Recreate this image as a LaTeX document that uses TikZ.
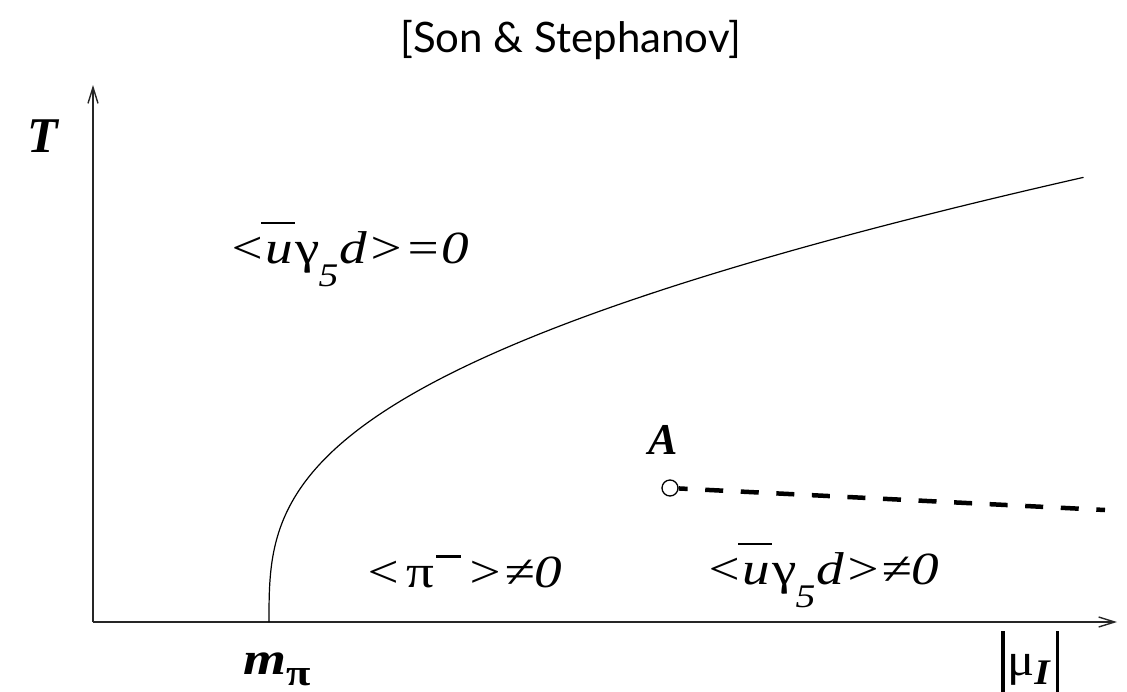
\documentclass[tikz,border=0pt]{standalone}
\usepackage{fontspec}
\usepackage{graphicx}
\setmainfont{Liberation Serif}
\newfontfamily\titlefont{Lato}
\usetikzlibrary{arrows.meta}
\newcommand\ubar{\makebox[0pt][l]{\hspace{-0.08em}\rule[0.84em]{0.62em}{0.055em}}u}
\newcommand\gsub[1]{\kern-0.02em\raisebox{-0.52em}{\fontsize{33}{33}\selectfont #1}\kern0.02em}
\newcommand\vbar{\rule[-0.36em]{0.07em}{1.32em}}
\newcommand\wide[1]{\scalebox{1.2}[1]{#1}}
\begin{document}
\begin{tikzpicture}[x=1pt,y=-1pt,
  lbl/.style={inner sep=0pt, anchor=base west, font=\fontsize{46}{46}\selectfont\itshape},
  bold/.style={inner sep=0pt, font=\fontsize{44}{44}\selectfont\bfseries\itshape},
  axis/.style={line width=1.6pt, draw=black!85, -{Straight Barb[length=16pt,width=10pt,line width=1.4pt]}}]
\useasboundingbox (0,0) rectangle (1127,691);
% title
\node[inner sep=0pt, anchor=base, font=\titlefont\fontsize{42}{42}\selectfont] (title) at (571,52) {[Son \& Stephanov]};
% axes
\coordinate (O) at (93,622);
\coordinate (Yend) at (93,85);
\coordinate (Xend) at (1117,622);
\draw[axis] (O) -- (Yend);
\draw[axis] (O) -- (Xend);
% phase boundary
\coordinate (mpi) at (269,622);
\draw[line width=1.2pt] (mpi) -- plot[domain=0:9.34, samples=250, variable=\t] ({269+\t*\t*\t},{622-41.7*\t-0.0678*\t*\t*\t});
% point A and dashed line
\node[circle, draw, fill=white, line width=1.3pt, minimum size=16pt, inner sep=0pt] (A) at (670,488) {};
\coordinate (Dend) at (1105,510);
\draw[line width=4.5pt, dash pattern=on 18pt off 17.6pt, dash phase=9pt] (A) -- (Dend);
% labels
\node[bold, font=\fontsize{50}{50}\selectfont\bfseries\itshape] (T) at (43,136) {T};
\node[bold] (Alab) at (663,440) {A};
\node[lbl] (l1) at (228,263) {\wide{<\ubar\kern0.04em\textup{γ}\gsub{5}d>=0}};
\node[lbl] (l2) at (364,587) {\wide{<\kern0.1em\textup{π}\kern0.03em\raisebox{0.62em}{\rule{0.45em}{0.065em}}\kern0.1em>≠0}};
\node[lbl] (l3) at (705,584) {\wide{<\ubar\kern0.04em\textup{γ}\gsub{5}d>≠0}};
\node[lbl, font=\fontsize{46}{46}\selectfont\bfseries\itshape] (mlab) at (243,674) {\wide{m\raisebox{-0.24em}{\fontsize{37}{37}\selectfont\textup{π}}}};
\node[lbl] (mulab) at (1001,675) {\scalebox{1.1}[1]{\vbar\kern0.05em\textup{μ}\raisebox{-0.2em}{\fontsize{36}{36}\selectfont\bfseries\itshape I}\kern0.12em\vbar}};
\end{tikzpicture}
\end{document}
